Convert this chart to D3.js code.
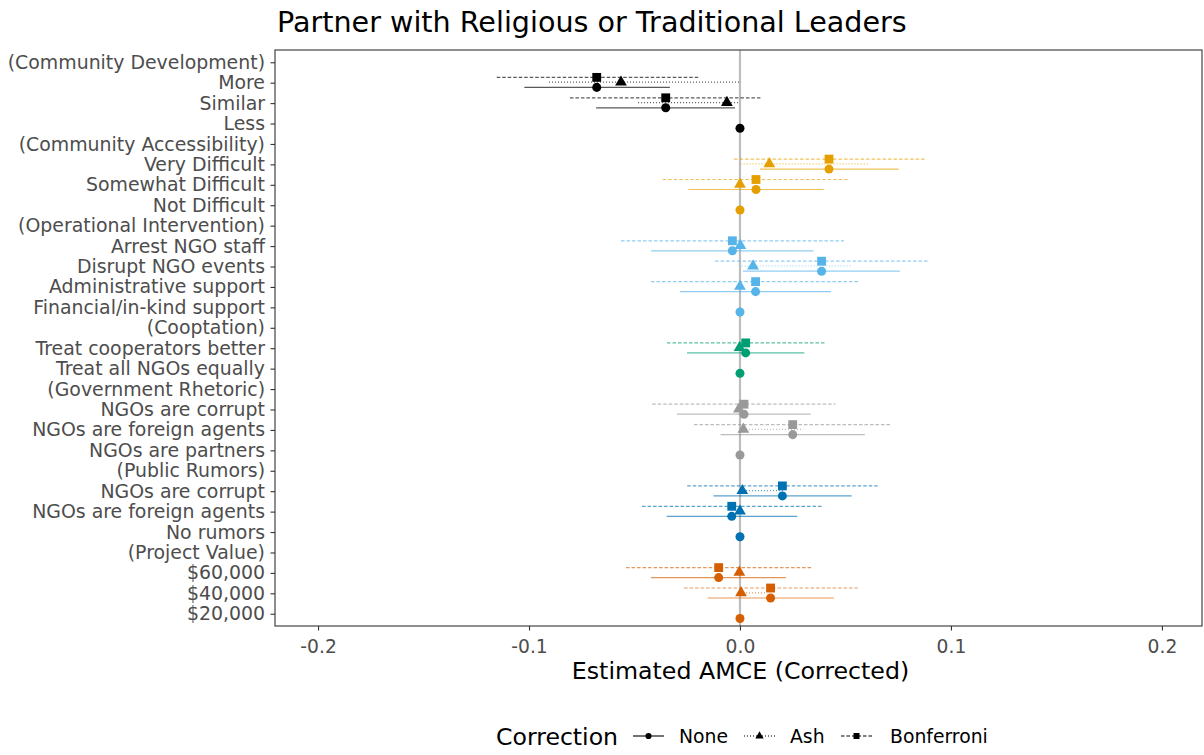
<!DOCTYPE html>
<html><head><meta charset="utf-8">
<script src="https://cdn.jsdelivr.net/npm/d3@7"></script>
<style>body{margin:0;background:#fff}svg{display:block}text{font-family:"DejaVu Sans",sans-serif}</style>
</head><body><svg id="c" width="1204" height="755"></svg>
<script>
const rowLabels = ["(Community Development)","More","Similar","Less","(Community Accessibility)","Very Difficult","Somewhat Difficult","Not Difficult","(Operational Intervention)","Arrest NGO staff","Disrupt NGO events","Administrative support","Financial/in-kind support","(Cooptation)","Treat cooperators better","Treat all NGOs equally","(Government Rhetoric)","NGOs are corrupt","NGOs are foreign agents","NGOs are partners","(Public Rumors)","NGOs are corrupt","NGOs are foreign agents","No rumors","(Project Value)","$60,000","$40,000","$20,000"];
const rowGroup = [0,0,0,0,1,1,1,1,2,2,2,2,2,3,3,3,4,4,4,4,5,5,5,5,6,6,6,6];
const groupColors = ["#000000","#E69F00","#56B4E9","#009E73","#999999","#0072B2","#D55E00"];
const N = null;
const noneEst = [N,-0.0679,-0.0352,0,N,0.0422,0.0076,0,N,-0.0036,0.0387,0.0074,0,N,0.0027,0,N,0.0019,0.025,0,N,0.0201,-0.0039,0,N,-0.0101,0.0145,0];
const noneLo  = [N,-0.1022,-0.0682,0,N,0.0095,-0.0245,0,N,-0.0422,0.0014,-0.0284,0,N,-0.0251,0,N,-0.0299,-0.0092,0,N,-0.0126,-0.0348,0,N,-0.0422,-0.0153,0];
const noneHi  = [N,-0.0332,-0.0024,0,N,0.0752,0.0397,0,N,0.0349,0.0758,0.0431,0,N,0.0305,0,N,0.0335,0.0592,0,N,0.0529,0.0272,0,N,0.0218,0.0445,0];
const ashEst  = [N,-0.0564,-0.0062,N,N,0.0139,0,N,N,0.0002,0.0062,0,N,N,-0.0002,N,N,-0.0005,0.0016,N,N,0.0011,0.0000,N,N,-0.0003,0.0005,N];
const ashLo   = [N,-0.0905,-0.0483,N,N,0.0003,0,N,N,0,0.0008,0,N,N,0,N,N,0,0,N,N,0,0,N,N,0,0,N];
const ashHi   = [N,0,0,N,N,0.061,0,N,N,0,0.0524,0,N,N,0,N,N,0,0.030,N,N,0.0204,0,N,N,0,0.0126,N];
const bonfEst = [N,-0.0679,-0.0352,N,N,0.0422,0.0076,N,N,-0.0036,0.0387,0.0074,N,N,0.0027,N,N,0.0019,0.025,N,N,0.0201,-0.0039,N,N,-0.0101,0.0145,N];
const bonfLo  = [N,-0.1153,-0.0806,N,N,-0.0028,-0.0366,N,N,-0.0564,-0.0118,-0.0422,N,N,-0.0346,N,N,-0.0416,-0.0218,N,N,-0.025,-0.0464,N,N,-0.054,-0.0265,N];
const bonfHi  = [N,-0.0198,0.0100,N,N,0.0877,0.0518,N,N,0.0493,0.090,0.0569,N,N,0.0408,N,N,0.0453,0.072,N,N,0.0652,0.0387,N,N,0.034,0.0558,N];
const xTicks = [-0.2,-0.1,0.0,0.1,0.2];
const corrections = ["None","Ash","Bonferroni"];

const svg = d3.select("#c");
const L = 275, R = 1202, T = 50, B = 626;
const x = d3.scaleLinear().domain([-0.2204, 0.2190]).range([L, R]);
const y = d3.scalePoint().domain(d3.range(rowLabels.length)).range([T, B]).padding(0.6);

const series = [
  {name:"None", est:noneEst, lo:noneLo, hi:noneHi, dy:4.7, dash:null, shape:d3.symbolCircle, size:64, lsize:30},
  {name:"Ash", est:ashEst, lo:ashLo, hi:ashHi, dy:-0.5, dash:"1,2", shape:d3.symbolTriangle, size:60, lsize:30},
  {name:"Bonferroni", est:bonfEst, lo:bonfLo, hi:bonfHi, dy:-5.3, dash:"3.5,2", shape:d3.symbolSquare, size:78, lsize:36}
];

// zero line
svg.append("line").attr("x1",x(0)).attr("x2",x(0)).attr("y1",T).attr("y2",B)
  .attr("stroke","#bdbdbd").attr("stroke-width",2.2);

// error bars
series.forEach(s=>{
  const idx = d3.range(rowLabels.length).filter(i=>s.lo[i]!==null && s.hi[i]!==s.lo[i]);
  svg.append("g").selectAll("line").data(idx).join("line")
    .attr("x1",i=>x(s.lo[i])).attr("x2",i=>x(s.hi[i]))
    .attr("y1",i=>y(i)+s.dy).attr("y2",i=>y(i)+s.dy)
    .attr("stroke",i=>groupColors[rowGroup[i]]).attr("stroke-opacity",0.65)
    .attr("stroke-width",1.2).attr("stroke-dasharray",s.dash);
});
// points
series.forEach(s=>{
  const idx = d3.range(rowLabels.length).filter(i=>s.est[i]!==null);
  svg.append("g").selectAll("path").data(idx).join("path")
    .attr("d",d3.symbol().type(s.shape).size(s.size))
    .attr("transform",i=>`translate(${x(s.est[i])},${y(i)+s.dy})`)
    .attr("fill",i=>groupColors[rowGroup[i]]);
});

// panel border
svg.append("rect").attr("x",L).attr("y",T).attr("width",R-L).attr("height",B-T)
  .attr("fill","none").attr("stroke","#333333").attr("stroke-width",1.1);

// axes
const xAxis = svg.append("g").attr("transform",`translate(0,${B})`)
  .call(d3.axisBottom(x).tickValues(xTicks).tickSize(4.5).tickPadding(9).tickFormat(d=>d===0?"0.0":d3.format(".1f")(d).replace("\u2212","-")));
xAxis.select(".domain").remove();
xAxis.selectAll("line").attr("stroke","#333333").attr("stroke-width",1.1);
xAxis.selectAll("text").attr("fill","#4d4d4d").style("font-size","18.7px").style("font-family","DejaVu Sans");

const yAxis = svg.append("g").attr("transform",`translate(${L},0)`)
  .call(d3.axisLeft(y).tickSize(4.5).tickPadding(5.5).tickFormat(i=>rowLabels[i]));
yAxis.select(".domain").remove();
yAxis.selectAll("line").attr("stroke","#333333").attr("stroke-width",1.1);
yAxis.selectAll("text").attr("fill","#4d4d4d").style("font-size","18.9px").style("font-family","DejaVu Sans");

// titles
svg.append("text").attr("x",277).attr("y",32).attr("fill","#000").style("font-size","28.6px").text("Partner with Religious or Traditional Leaders");
svg.append("text").attr("x",(L+R)/2+2).attr("y",679).attr("text-anchor","middle").attr("fill","#000").style("font-size","23.7px").text("Estimated AMCE (Corrected)");

// legend
const lg = svg.append("g");
lg.append("text").attr("x",496).attr("y",745).style("font-size","23.6px").attr("fill","#000").text("Correction");
const keyX = [633, 744, 841], textX = [679, 790, 890];
series.forEach((s,k)=>{
  lg.append("line").attr("x1",keyX[k]).attr("x2",keyX[k]+31).attr("y1",736).attr("y2",736)
    .attr("stroke","#000").attr("stroke-width",1.1).attr("stroke-dasharray",s.dash);
  lg.append("path").attr("d",d3.symbol().type(s.shape).size(s.lsize)).attr("transform",`translate(${keyX[k]+15.5},736)`).attr("fill","#000");
  lg.append("text").attr("x",textX[k]).attr("y",742.5).style("font-size","18.8px").attr("fill","#000").text(corrections[k]);
});
</script></body></html>
